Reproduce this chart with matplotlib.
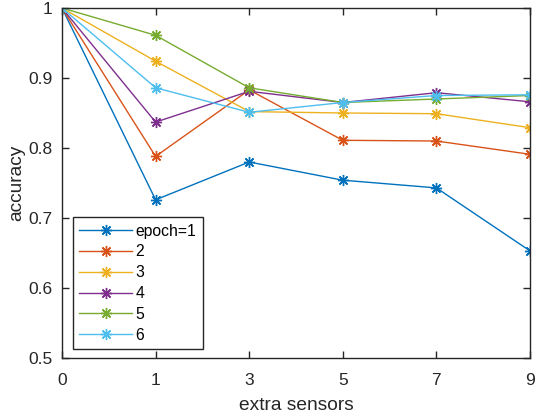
import matplotlib.pyplot as plt

plt.rcParams['font.family'] = ['Liberation Sans', 'DejaVu Sans']

# extra sensors (plotted at evenly spaced positions)
sensors = ['0', '1', '3', '5', '7', '9']

acc_epoch1 = [1.0, 0.726, 0.780, 0.754, 0.743, 0.653]
acc_epoch2 = [1.0, 0.788, 0.883, 0.811, 0.810, 0.791]
acc_epoch3 = [1.0, 0.924, 0.852, 0.850, 0.849, 0.829]
acc_epoch4 = [1.0, 0.837, 0.881, 0.865, 0.879, 0.866]
acc_epoch5 = [1.0, 0.961, 0.886, 0.865, 0.870, 0.875]
acc_epoch6 = [1.0, 0.886, 0.851, 0.865, 0.875, 0.876]

series = [acc_epoch1, acc_epoch2, acc_epoch3, acc_epoch4, acc_epoch5, acc_epoch6]
labels = ['epoch=1', '2', '3', '4', '5', '6']
colors = ['#0072BD', '#D95319', '#EDB120', '#7E2F8E', '#77AC30', '#4DBEEE']

fig = plt.figure(figsize=(5.35, 4.18), dpi=100)
ax = fig.add_axes([62 / 535, 60 / 418, 468 / 535, 350 / 418])

x = range(len(sensors))
for vals, lab, c in zip(series, labels, colors):
    ax.plot(x, vals, color=c, lw=1.0, marker=(8, 2, 0), markersize=8,
            markeredgewidth=1.0, label=lab)

ax.set_xlim(0, len(sensors) - 1)
ax.set_ylim(0.5, 1.0)
ax.set_xticks(list(x))
ax.set_xticklabels(sensors)
ax.set_yticks([0.5, 0.6, 0.7, 0.8, 0.9, 1.0])
ax.set_yticklabels(['0.5', '0.6', '0.7', '0.8', '0.9', '1'])
ax.tick_params(direction='in', top=True, right=True, labelsize=12.5, length=5,
               width=1.0, colors='#262626')
ax.tick_params(axis='x', pad=11)
ax.tick_params(axis='y', pad=7)
for s in ax.spines.values():
    s.set_color('#262626')
    s.set_linewidth(1.0)

ax.set_xlabel('extra sensors', fontsize=13.8, color='#262626', labelpad=6)
ax.set_ylabel('accuracy', fontsize=13.8, color='#262626', labelpad=2)

leg = ax.legend(loc='lower left', bbox_to_anchor=(0.023, 0.026), fontsize=11.3,
                handlelength=3.4, fancybox=False, framealpha=1,
                edgecolor='#262626', borderpad=0.4, labelspacing=0.37,
                handletextpad=0.2, borderaxespad=0)
leg.get_frame().set_linewidth(1.0)

fig.savefig('out.png', dpi=100)
